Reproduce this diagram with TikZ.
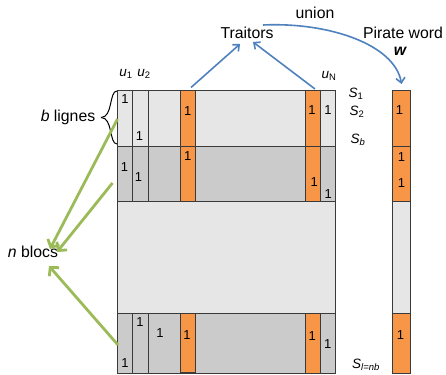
\documentclass[tikz,border=0pt]{standalone}
\usepackage{fontspec}
\setmainfont{Liberation Sans}
\usetikzlibrary{arrows.meta,decorations.pathreplacing}
\definecolor{lgrey}{HTML}{E6E6E6}
\definecolor{dgrey}{HTML}{CBCBCB}
\definecolor{orng}{HTML}{F79646}
\definecolor{edge}{HTML}{3A3A3A}
\definecolor{bluearr}{HTML}{4F81BD}
\definecolor{greenarr}{HTML}{9BBB59}
\begin{document}
\begin{tikzpicture}[x=1pt,y=-1pt,
  cell/.style={draw=edge,line width=0.8pt},
  one/.style={font=\fontsize{13}{13}\selectfont,inner sep=0pt},
  lab/.style={font=\fontsize{13.5}{14}\selectfont\itshape,inner sep=0pt},
  big/.style={font=\fontsize{15.8}{16}\selectfont,inner sep=0pt},
  bluearrow/.style={draw=bluearr,line width=1.6pt,-{Straight Barb[length=5pt,width=9pt]}},
  greenarrow/.style={draw=greenarr,line width=2.8pt,-{Straight Barb[length=6pt,width=13pt]}}]
\useasboundingbox (0,0) rectangle (446,374);
% blocks
\fill[lgrey] (117.5,90) rectangle (335,146);
\fill[dgrey] (117.5,146) rectangle (335,201);
\fill[lgrey] (117.5,201) rectangle (335,313);
\fill[dgrey] (117.5,313) rectangle (335,373);
% orange columns
\fill[orng] (180.5,90) rectangle (195.5,201);
\fill[orng] (305,90) rectangle (320,201);
\fill[orng] (180.5,313) rectangle (195.5,372);
\fill[orng] (305,313) rectangle (320,373);
% column dividers
\foreach \x in {132.5,148,180.5,195.5,305,320}{
  \draw[cell] (\x,90) -- (\x,201);
  \draw[cell] (\x,313) -- (\x,373);
}
\draw[cell] (117.5,90) rectangle (335,373);
\draw[cell] (117.5,146) -- (335,146);
\draw[cell] (117.5,201) -- (335,201);
\draw[cell] (117.5,313) -- (335,313);
\draw[cell] (180.5,372) -- (195.5,372);
% pirate word column
\fill[orng] (392.5,90) rectangle (410.5,201);
\fill[lgrey] (392.5,201) rectangle (410.5,313);
\fill[orng] (392.5,313) rectangle (410.5,373);
\draw[cell] (392.5,90) rectangle (410.5,373);
\draw[cell] (392.5,146) -- (410.5,146);
\draw[cell] (392.5,201) -- (410.5,201);
\draw[cell] (392.5,313) -- (410.5,313);
% ones
\foreach \p in {(125,99),(139.5,136),(187.8,111.5),(312,110),(328,110),
  (124.5,167.5),(138.5,177.5),(187.8,156.5),(314.3,182.5),(328.3,194),
  (125,363),(140,322.5),(160,333),(187,335),(312.3,336),(327.7,344),
  (399.5,110),(401.5,157.5),(401.5,183.5),(400.5,335)}
  \node[one] at \p {1};
% labels
\node[lab] (u1) at (126,74) {u\textsubscript{\upshape 1}};
\node[lab] (u2) at (144,74) {u\textsubscript{\upshape 2}};
\node[lab] (uN) at (329,76) {u\textsubscript{\upshape N}};
\node[lab] (s1) at (356,94) {S\textsubscript{\upshape 1}};
\node[lab] (s2) at (357,111.5) {S\textsubscript{\upshape 2}};
\node[lab] (sb) at (358,140) {S\textsubscript{b}};
\node[lab] (sl) at (366,365) {S\textsubscript{l=nb}};
\node[big] (traitors) at (247,33) {Traitors};
\node[big] (union) at (315,12.5) {union};
\node[big] (pirate) at (403,32.5) {Pirate word};
\node[big,font=\fontsize{15.8}{16}\selectfont\bfseries\itshape] (w) at (400,51.5) {w};
\node[big] (nblocs) at (33,252) {\textit{n} blocs};
\node[big] (blignes) at (68,117.5) {\textit{b} lignes};
% brace
\draw[line width=1pt] (117,91) .. controls (109,91) and (113,117.5) .. (101,117.5);
\draw[line width=1pt] (117,144) .. controls (109,144) and (113,117.5) .. (101,117.5);
% coordinates
\coordinate (o1) at (191,87.5);
\coordinate (o2) at (315,89);
\coordinate (t1) at (240,44);
\coordinate (t2) at (253,42);
\coordinate (ustart) at (263,25);
\coordinate (pw) at (401.5,84);
\coordinate (g1) at (117.5,119);
\coordinate (g2) at (112.5,183);
\coordinate (g3) at (118,345);
\coordinate (n1) at (50,249);
\coordinate (n2) at (57,252);
\coordinate (n3) at (49,266);
% arrows
\draw[bluearrow] (o1) -- (t1);
\draw[bluearrow] (o2) -- (t2);
\draw[bluearrow] (ustart) .. controls (330,22) and (395,45) .. (pw);
\draw[greenarrow] (g1) -- (n1);
\draw[greenarrow] (g2) -- (n2);
\draw[greenarrow] (g3) -- (n3);
\end{tikzpicture}
\end{document}
